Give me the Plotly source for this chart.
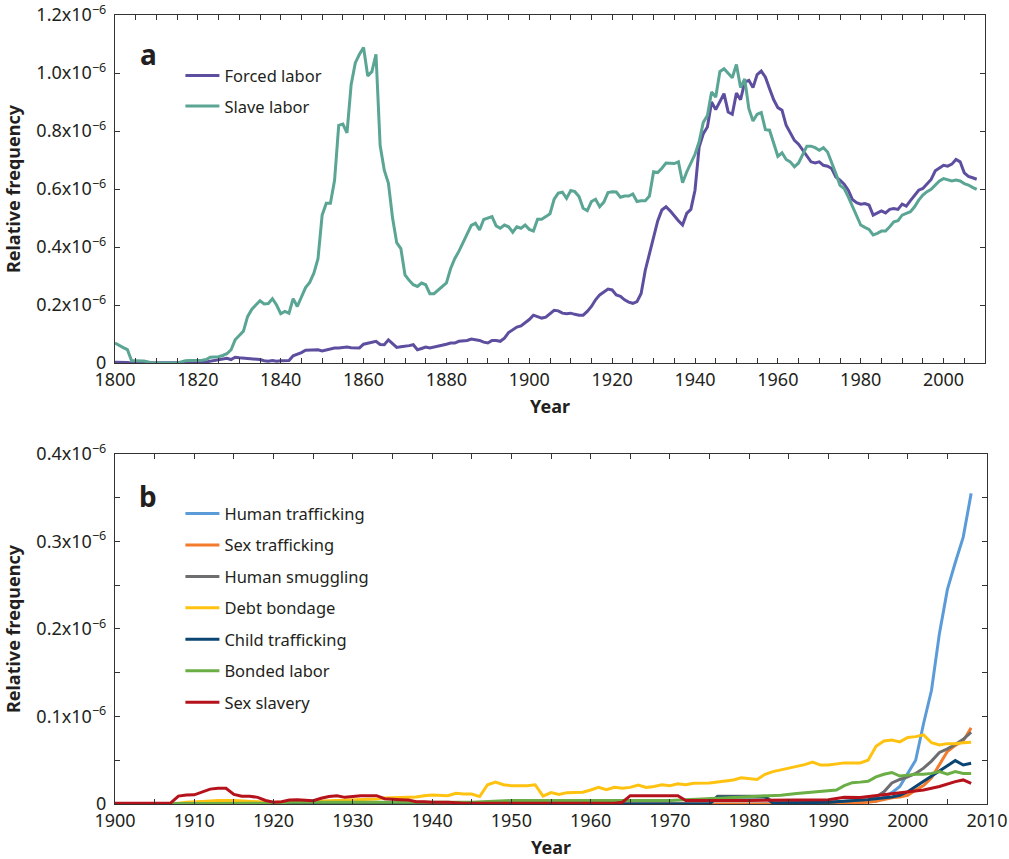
import plotly.graph_objects as go

# ---------------- Panel a data (relative frequency, units of 1e-6) ----------------
years_a = list(range(1800, 2009))

slave_labor = [
    0.069, 0.060, 0.053, 0.046, 0.008, 0.008, 0.008, 0.007, 0.004, 0.0,
    0.0, 0.0, 0.0, 0.0, 0.0, 0.0, 0.004, 0.008, 0.009, 0.009,
    0.009, 0.010, 0.012, 0.020, 0.021, 0.022, 0.026, 0.032, 0.045, 0.080,
    0.095, 0.110, 0.160, 0.185, 0.200, 0.215, 0.204, 0.205, 0.222, 0.200,
    0.170, 0.178, 0.172, 0.222, 0.195, 0.225, 0.260, 0.278, 0.310, 0.360,
    0.510, 0.551, 0.551, 0.630, 0.820, 0.824, 0.794, 0.960, 1.035, 1.065,
    1.088, 0.990, 1.005, 1.065, 0.750, 0.665, 0.620, 0.500, 0.415, 0.395,
    0.304, 0.285, 0.270, 0.264, 0.276, 0.270, 0.239, 0.239, 0.252, 0.264,
    0.276, 0.325, 0.360, 0.385, 0.415, 0.440, 0.475, 0.482, 0.459, 0.495,
    0.500, 0.505, 0.473, 0.465, 0.476, 0.470, 0.451, 0.470, 0.465, 0.476,
    0.461, 0.455, 0.496, 0.496, 0.505, 0.515, 0.565, 0.586, 0.589, 0.568,
    0.595, 0.591, 0.574, 0.534, 0.526, 0.557, 0.565, 0.539, 0.555, 0.588,
    0.591, 0.590, 0.572, 0.576, 0.576, 0.583, 0.557, 0.560, 0.560, 0.576,
    0.660, 0.657, 0.672, 0.690, 0.689, 0.688, 0.694, 0.622, 0.659, 0.690,
    0.720, 0.763, 0.830, 0.854, 0.935, 0.917, 1.005, 1.015, 0.998, 0.984,
    1.030, 0.950, 0.980, 0.877, 0.835, 0.858, 0.864, 0.805, 0.803, 0.757,
    0.713, 0.725, 0.702, 0.694, 0.677, 0.690, 0.720, 0.748, 0.748, 0.743,
    0.734, 0.743, 0.728, 0.694, 0.654, 0.613, 0.602, 0.573, 0.539, 0.505,
    0.476, 0.468, 0.461, 0.442, 0.447, 0.455, 0.455, 0.470, 0.487, 0.491,
    0.510, 0.516, 0.522, 0.539, 0.562, 0.579, 0.591, 0.599, 0.614, 0.628,
    0.636, 0.631, 0.628, 0.631, 0.628, 0.619, 0.614, 0.606, 0.599,
]

forced_labor = [
    0.003, 0.003, 0.003, 0.002, 0.0, 0.0, 0.0, 0.0, 0.0, 0.0,
    0.0, 0.0, 0.0, 0.0, 0.0, 0.0, 0.0, 0.0, 0.0, 0.0,
    0.0, 0.002, 0.004, 0.006, 0.008, 0.011, 0.013, 0.016, 0.012, 0.020,
    0.018, 0.017, 0.016, 0.016, 0.015, 0.012, 0.008, 0.006, 0.009, 0.006,
    0.008, 0.009, 0.009, 0.025, 0.030, 0.036, 0.044, 0.044, 0.044, 0.046,
    0.042, 0.045, 0.048, 0.052, 0.052, 0.054, 0.055, 0.053, 0.052, 0.052,
    0.065, 0.069, 0.071, 0.075, 0.064, 0.063, 0.080, 0.067, 0.054, 0.056,
    0.057, 0.060, 0.063, 0.046, 0.050, 0.055, 0.052, 0.055, 0.058, 0.060,
    0.065, 0.069, 0.069, 0.075, 0.077, 0.078, 0.083, 0.080, 0.078, 0.072,
    0.069, 0.078, 0.078, 0.075, 0.086, 0.105, 0.115, 0.124, 0.128, 0.138,
    0.150, 0.165, 0.160, 0.155, 0.158, 0.170, 0.182, 0.180, 0.172, 0.170,
    0.172, 0.168, 0.165, 0.165, 0.178, 0.195, 0.218, 0.235, 0.245, 0.255,
    0.252, 0.235, 0.230, 0.218, 0.210, 0.206, 0.212, 0.240, 0.320, 0.380,
    0.430, 0.490, 0.528, 0.539, 0.525, 0.507, 0.491, 0.476, 0.516, 0.530,
    0.596, 0.745, 0.791, 0.814, 0.900, 0.874, 0.900, 0.929, 0.866, 0.858,
    0.931, 0.908, 0.969, 0.975, 0.950, 0.995, 1.007, 0.986, 0.946, 0.908,
    0.881, 0.872, 0.820, 0.794, 0.768, 0.755, 0.734, 0.717, 0.694, 0.690,
    0.694, 0.682, 0.679, 0.671, 0.642, 0.631, 0.617, 0.596, 0.564, 0.553,
    0.548, 0.550, 0.545, 0.510, 0.518, 0.525, 0.518, 0.530, 0.533, 0.530,
    0.548, 0.541, 0.560, 0.579, 0.596, 0.602, 0.617, 0.633, 0.663, 0.674,
    0.682, 0.679, 0.686, 0.702, 0.694, 0.656, 0.644, 0.639, 0.634,
]

# ---------------- Panel b data (relative frequency, units of 1e-6) ----------------
ht_years = [1900, 1980, 1990, 1995, 1996, 1997, 1998, 1999, 2000, 2001, 2002, 2003,
            2004, 2005, 2006, 2007, 2008]
human_trafficking = [0, 0, 0.001, 0.002, 0.003, 0.008, 0.013, 0.020, 0.035, 0.050,
                     0.092, 0.130, 0.195, 0.245, 0.276, 0.305, 0.355]

st_years = [1900, 1990, 1995, 1996, 1997, 1998, 1999, 2000, 2001, 2002, 2003, 2004,
            2005, 2006, 2007, 2008]
sex_trafficking = [0, 0, 0.002, 0.003, 0.005, 0.007, 0.008, 0.010, 0.016, 0.021,
                   0.030, 0.045, 0.060, 0.067, 0.072, 0.087]

hs_years = [1900, 1975, 1976, 1982, 1983, 1990, 1995, 1996, 1997, 1998, 1999, 2000,
            2001, 2002, 2003, 2004, 2005, 2006, 2007, 2008]
human_smuggling = [0, 0, 0.009, 0.009, 0.002, 0.002, 0.005, 0.008, 0.014, 0.024,
                   0.028, 0.031, 0.035, 0.041, 0.049, 0.059, 0.063, 0.068, 0.074, 0.082]

db_years = [1900, 1907, 1908, 1909, 1911, 1913, 1915, 1917, 1919, 1922, 1925, 1929,
            1931, 1933, 1934, 1936, 1938, 1939, 1940, 1942, 1943, 1944, 1945, 1946,
            1947, 1948, 1949, 1950, 1952, 1953, 1954, 1955, 1956, 1957, 1959, 1960,
            1961, 1962, 1963, 1964, 1965, 1966, 1967, 1968, 1969, 1970, 1971, 1972,
            1973, 1975, 1976, 1977, 1978, 1979, 1980, 1981, 1982, 1983, 1984, 1985,
            1986, 1987, 1988, 1989, 1990, 1991, 1992, 1993, 1994, 1995, 1996, 1997,
            1998, 1999, 2000, 2001, 2002, 2003, 2004, 2005, 2006, 2007, 2008]
debt_bondage = [0, 0, 0.001, 0.002, 0.003, 0.004, 0.004, 0.003, 0.002, 0.002, 0.003,
                0.0046, 0.0046, 0.0057, 0.007, 0.0076, 0.008, 0.0095, 0.0103, 0.0095,
                0.0122, 0.0114, 0.0114, 0.0085, 0.022, 0.025, 0.022, 0.021, 0.021,
                0.022, 0.009, 0.013, 0.011, 0.013, 0.0135, 0.016, 0.019, 0.0164,
                0.019, 0.018, 0.019, 0.0217, 0.019, 0.020, 0.022, 0.021, 0.023,
                0.022, 0.0236, 0.024, 0.025, 0.026, 0.0275, 0.030, 0.029, 0.028,
                0.034, 0.037, 0.039, 0.041, 0.0435, 0.045, 0.048, 0.0445, 0.0445,
                0.046, 0.047, 0.047, 0.047, 0.050, 0.066, 0.072, 0.073, 0.071,
                0.076, 0.077, 0.079, 0.070, 0.0675, 0.069, 0.069, 0.070, 0.0705]

ct_years = [1900, 1975, 1976, 1982, 1983, 1990, 1995, 1996, 1997, 1998, 1999, 2000,
            2001, 2002, 2003, 2004, 2005, 2006, 2007, 2008]
child_trafficking = [0, 0, 0.008, 0.008, 0.001, 0.002, 0.005, 0.006, 0.007, 0.008,
                     0.010, 0.014, 0.020, 0.026, 0.031, 0.037, 0.043, 0.0496, 0.0446,
                     0.0465]

bl_years = [1900, 1920, 1922, 1945, 1950, 1970, 1972, 1976, 1980, 1984, 1986, 1988,
            1990, 1991, 1992, 1993, 1994, 1995, 1996, 1997, 1998, 1999, 2000, 2001,
            2002, 2003, 2004, 2005, 2006, 2007, 2008]
bonded_labor = [0, 0.001, 0.002, 0.002, 0.004, 0.004, 0.005, 0.0065, 0.0084, 0.010,
                0.012, 0.0135, 0.015, 0.016, 0.021, 0.0244, 0.025, 0.026, 0.031,
                0.034, 0.036, 0.032, 0.033, 0.034, 0.034, 0.035, 0.037, 0.034,
                0.037, 0.035, 0.035]

ss_years = [1900, 1907, 1908, 1909, 1910, 1911, 1912, 1913, 1914, 1915, 1916, 1917,
            1918, 1919, 1920, 1921, 1922, 1923, 1924, 1925, 1926, 1927, 1928, 1929,
            1930, 1931, 1932, 1933, 1934, 1935, 1936, 1937, 1938, 1939, 1940, 1942,
            1944, 1963, 1964, 1965, 1971, 1972, 1980, 1990, 1992, 1994, 1996, 1998,
            2000, 2002, 2004, 2006, 2007, 2008]
sex_slavery = [0.001, 0.001, 0.009, 0.0103, 0.0105, 0.0133, 0.017, 0.018, 0.018,
               0.011, 0.0088, 0.0088, 0.0076, 0.004, 0.002, 0.0027, 0.0045, 0.0048,
               0.0046, 0.0038, 0.0065, 0.0085, 0.0095, 0.0076, 0.0085, 0.0095,
               0.0095, 0.0095, 0.006, 0.0052, 0.005, 0.0046, 0.0027, 0.0025, 0.002,
               0.002, 0.001, 0.001, 0.002, 0.0095, 0.0095, 0.004, 0.004, 0.005,
               0.0076, 0.0075, 0.0095, 0.0114, 0.0135, 0.016, 0.020, 0.0256, 0.0275,
               0.0236]

ticks_a = [0, 0.2, 0.4, 0.6, 0.8, 1.0, 1.2]
ticklabels_a = ["0", "0.2x10<sup>−6</sup>", "0.4x10<sup>−6</sup>", "0.6x10<sup>−6</sup>",
                "0.8x10<sup>−6</sup>", "1.0x10<sup>−6</sup>", "1.2x10<sup>−6</sup>"]
ticks_b = [0, 0.1, 0.2, 0.3, 0.4]
ticklabels_b = ["0", "0.1x10<sup>−6</sup>", "0.2x10<sup>−6</sup>", "0.3x10<sup>−6</sup>",
                "0.4x10<sup>−6</sup>"]

FONT = "Noto Sans"
TXT = "#231f20"

fig = go.Figure()

# Panel a
fig.add_trace(go.Scatter(x=years_a, y=forced_labor, mode="lines", name="Forced labor",
                         line=dict(color="#5d4e9f", width=3), xaxis="x", yaxis="y",
                         legend="legend", legendgroup="a1"))
fig.add_trace(go.Scatter(x=years_a, y=slave_labor, mode="lines", name="Slave labor",
                         line=dict(color="#5ba594", width=3), xaxis="x", yaxis="y",
                         legend="legend", legendgroup="a2"))

# Panel b
series_b = [
    ("Human trafficking", ht_years, human_trafficking, "#5b9bd8"),
    ("Sex trafficking", st_years, sex_trafficking, "#f47b2c"),
    ("Human smuggling", hs_years, human_smuggling, "#6d6e70"),
    ("Debt bondage", db_years, debt_bondage, "#ffc210"),
    ("Child trafficking", ct_years, child_trafficking, "#0b4572"),
    ("Bonded labor", bl_years, bonded_labor, "#6aae45"),
    ("Sex slavery", ss_years, sex_slavery, "#b5121b"),
]
for i, (nm, xs, ys, col) in enumerate(series_b):
    fig.add_trace(go.Scatter(x=xs, y=ys, mode="lines", name=nm,
                             line=dict(color=col, width=3), xaxis="x2", yaxis="y2",
                             legend="legend2", legendgroup="b%d" % i))

axis_common = dict(showline=True, linecolor="#333333", linewidth=1.2, mirror="ticks",
                   ticks="inside", ticklen=5, tickcolor="#333333", tickwidth=1.2,
                   showgrid=False, zeroline=False, automargin=False,
                   tickfont=dict(family=FONT, size=18, color=TXT))

title_font = dict(family=FONT, size=18, color=TXT)

fig.update_layout(
    width=1009, height=859,
    margin=dict(l=115, r=22, t=15, b=55, autoexpand=False),
    paper_bgcolor="white", plot_bgcolor="white",
    font=dict(family=FONT, color=TXT),
    xaxis=dict(domain=[0, 0.9977], range=[1800, 2010], anchor="y",
               tickmode="linear", tick0=1800, dtick=20,
               minor=dict(dtick=5, ticks="inside", ticklen=5, tickcolor="#333333"),
               title=dict(text="<b>Year</b>", font=title_font, standoff=10),
               **axis_common),
    yaxis=dict(domain=[0.5589, 1.0], range=[0, 1.2004], anchor="x",
               tickvals=ticks_a, ticktext=ticklabels_a, ticklabelstandoff=4,
               title=dict(text="<b>Relative frequency</b>", font=title_font, standoff=11),
               **axis_common),
    xaxis2=dict(domain=[0, 1.0], range=[1900, 2010], anchor="y2",
                tickmode="linear", tick0=1900, dtick=10,
                minor=dict(dtick=5, ticks="inside", ticklen=5, tickcolor="#333333"),
                title=dict(text="<b>Year</b>", font=title_font, standoff=12),
                **axis_common),
    yaxis2=dict(domain=[0, 0.4436], range=[0, 0.4], anchor="x2",
                tickvals=ticks_b, ticktext=ticklabels_b, ticklabelstandoff=4,
                minor=dict(dtick=0.05, ticks="inside", ticklen=5, tickcolor="#333333"),
                title=dict(text="<b>Relative frequency</b>", font=title_font, standoff=11),
                **axis_common),
    legend=dict(x=0.075, y=0.945, xanchor="left", yanchor="top",
                bgcolor="rgba(0,0,0,0)", font=dict(family=FONT, size=16.5, color=TXT),
                traceorder="grouped", tracegroupgap=6, itemwidth=34),
    legend2=dict(x=0.075, y=0.39, xanchor="left", yanchor="top",
                 bgcolor="rgba(0,0,0,0)", font=dict(family=FONT, size=16.5, color=TXT),
                 traceorder="grouped", tracegroupgap=7, itemwidth=34),
    annotations=[
        dict(text="<b>a</b>", x=0.038, y=0.95, xref="paper", yref="paper",
             xanchor="center", yanchor="middle", showarrow=False,
             font=dict(family=FONT, size=28, color=TXT)),
        dict(text="<b>b</b>", x=0.038, y=0.39, xref="paper", yref="paper",
             xanchor="center", yanchor="middle", showarrow=False,
             font=dict(family=FONT, size=28, color=TXT)),
    ],
)

fig.write_html("out.html", config={"displayModeBar": False},
               post_script="document.body.style.margin='0';document.body.style.overflow='hidden';")
